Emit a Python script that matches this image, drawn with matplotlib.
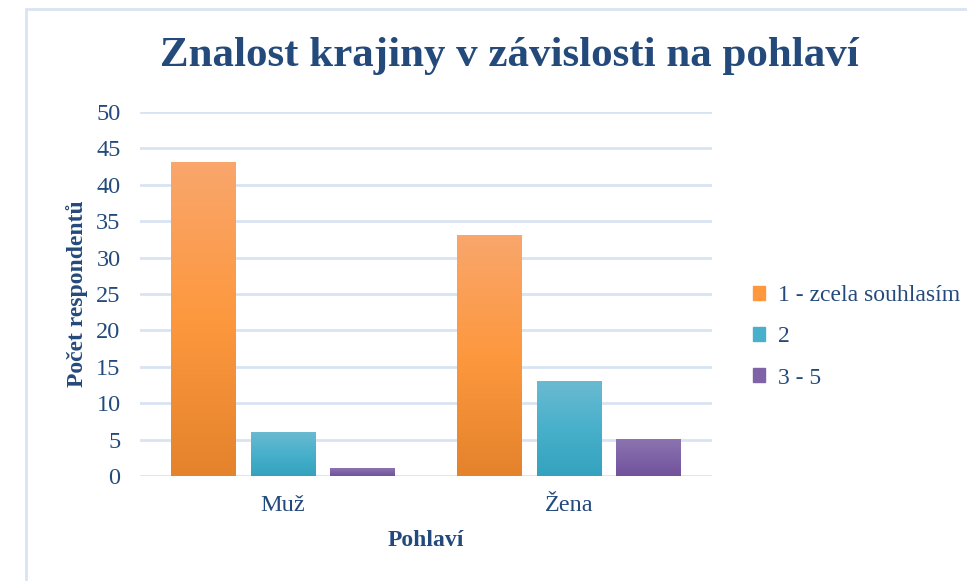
import numpy as np
import matplotlib.pyplot as plt
from matplotlib.colors import LinearSegmentedColormap
from matplotlib.patches import Rectangle

categories = ["Muž", "Žena"]
series_names = ["1 - zcela souhlasím", "2", "3 - 5"]
values_1 = [43, 33]
values_2 = [6, 13]
values_3 = [1, 5]
yticks = list(range(0, 51, 5))

# barvy přechodu: horní, střed, spodní
grad_colors = [
    ["#F9A66C", "#FD983E", "#E4832C"],
    ["#6ABAD1", "#48B0CB", "#34A2BF"],
    ["#8C74AF", "#7E63A6", "#71529C"],
]
text_color = "#244A7C"
grid_color = "#D9E4F2"

plt.rcParams['font.family'] = ['Liberation Serif', 'DejaVu Serif']

fig = plt.figure(figsize=(9.67, 5.81), dpi=100)
fig.patches.append(Rectangle((26 / 967, -0.05), 1.1, 1.05 - 9 / 581, transform=fig.transFigure,
                             fill=False, edgecolor=grid_color, linewidth=2))
ax = fig.add_axes([140 / 967, 105 / 581, 572 / 967, 364 / 581])

all_values = [values_1, values_2, values_3]
width = 0.227
offsets = [-0.277, 0, 0.277]
x = np.arange(len(categories))

for s in range(3):
    cmap = LinearSegmentedColormap.from_list("g%d" % s, grad_colors[s][::-1])
    grad = np.linspace(0, 1, 256).reshape(-1, 1)
    for i in range(len(categories)):
        x0 = x[i] + offsets[s] - width / 2
        h = all_values[s][i]
        ax.imshow(grad, cmap=cmap, aspect='auto', origin='lower',
                  extent=[x0, x0 + width, 0, h], zorder=3, interpolation='bilinear')

ax.set_xlim(-0.5, 1.5)
ax.set_ylim(0, 50)
ax.set_yticks(yticks)
ax.set_xticks(x)
ax.set_xticklabels(categories)
for y in yticks:
    ax.axhline(y, color=grid_color, linewidth=2, zorder=1)
for sp in ax.spines.values():
    sp.set_visible(False)
ax.tick_params(length=0, labelsize=17.5, labelcolor=text_color)
ax.tick_params(axis='y', pad=14)
ax.tick_params(axis='x', pad=14)

ax.set_ylabel("Počet respondentů", fontsize=17, fontweight='bold', color=text_color, labelpad=6)
ax.set_xlabel("Pohlaví", fontsize=17, fontweight='bold', color=text_color, labelpad=10)

fig.text(509 / 967, 1 - 56 / 581, "Znalost krajiny v závislosti na pohlaví", ha='center', va='center',
         fontsize=31, fontweight='bold', color=text_color)

handles = [Rectangle((0, 0), 1, 1, color=grad_colors[s][1]) for s in range(3)]
fig.legend(handles, series_names, loc='center left', bbox_to_anchor=(753 / 967, 1 - 337 / 581),
           frameon=False, borderpad=0, borderaxespad=0, fontsize=17, labelcolor=text_color,
           handlelength=0.5, handleheight=0.5, labelspacing=0.85, handletextpad=0.55)

fig.savefig("out.png", dpi=100)
